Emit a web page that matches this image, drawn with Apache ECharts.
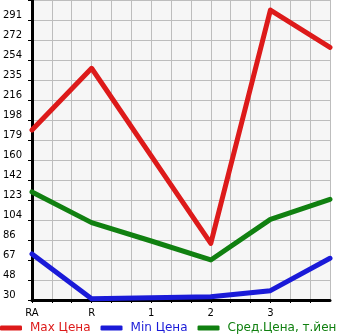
<!DOCTYPE html>
<html>
<head>
<meta charset="utf-8">
<script src="https://cdn.jsdelivr.net/npm/echarts@6/dist/echarts.min.js"></script>
<style>
  html, body { margin: 0; padding: 0; background: #fff; }
  #chart { width: 345px; height: 335px; }
</style>
</head>
<body>
<div id="chart"></div>
<script>
// данные графика
const categories = ['RA', 'R', '1', '2', '3', '4'];
const maxPrice = [188.5, 246.0, 164.4, 82.8, 300.3, 265.5];
const minPrice = [72.9, 31.2, 32.0, 33.0, 38.7, 68.9];
const avgPrice = [130.7, 102.1, 85.0, 67.3, 105.2, 123.9];
const yLabels = ['30', '48', '67', '86', '104', '123', '142', '160', '179', '198', '216', '235', '254', '272', '291', ''];

const Y_BASE = 30;
const Y_STEP = 18.643;
const X_SUB = 3; // 3 деления сетки на одну категорию
const FONT = 'DejaVu Sans';

const toSeries = (arr) => arr.map((v, i) => [i * X_SUB, v - Y_BASE]);

const chart = echarts.init(document.getElementById('chart'), null, { renderer: 'canvas' });

const line = (name, data, color) => ({
  name,
  type: 'line',
  data: toSeries(data),
  symbol: 'none',
  smooth: false,
  animation: false,
  lineStyle: { color, width: 5, cap: 'round', join: 'round' },
  itemStyle: { color },
});

chart.setOption({
  backgroundColor: '#fff',
  animation: false,
  grid: {
    left: 30, right: 15, top: 0, bottom: 35,
    show: true, backgroundColor: '#f6f6f6', borderWidth: 0,
  },
  legend: {
    left: 0, top: 322, padding: 0,
    itemWidth: 22, itemHeight: 5, itemGap: 10,
    icon: 'roundRect',
    data: [
      { name: 'Max Цена', textStyle: { color: '#dd1a1a' } },
      { name: 'Min Цена', textStyle: { color: '#1a1ad8' } },
      { name: 'Сред.Цена, т.йен', textStyle: { color: '#108010' } },
    ],
    textStyle: { fontFamily: FONT, fontSize: 12, padding: [0, 0, 0, 3] },
  },
  xAxis: {
    type: 'value',
    min: 0,
    max: (categories.length - 1) * X_SUB,
    interval: 1,
    axisLine: { show: true, onZero: false, lineStyle: { color: '#000', width: 3 } },
    axisTick: { show: true, length: 3, lineStyle: { color: '#000' } },
    axisLabel: {
      color: '#000', fontFamily: FONT, fontSize: 10, margin: 8,
      showMaxLabel: false,
      formatter: (v) => (v % X_SUB === 0 ? categories[v / X_SUB] : ''),
    },
    splitLine: { show: true, lineStyle: { color: '#bdbdbd', width: 1 } },
  },
  yAxis: {
    type: 'value',
    min: 0,
    max: (yLabels.length - 1) * Y_STEP,
    interval: Y_STEP,
    axisLine: { show: true, onZero: false, lineStyle: { color: '#000', width: 3 } },
    axisTick: { show: true, length: 4, lineStyle: { color: '#000' } },
    axisLabel: {
      color: '#000', fontFamily: FONT, fontSize: 10,
      align: 'left', verticalAlign: 'bottom', margin: 29,
      formatter: (v) => yLabels[Math.round(v / Y_STEP)] || '',
    },
    splitLine: { show: true, lineStyle: { color: '#bdbdbd', width: 1 } },
  },
  series: [
    line('Max Цена', maxPrice, '#dd1a1a'),
    line('Min Цена', minPrice, '#1a1ad8'),
    line('Сред.Цена, т.йен', avgPrice, '#108010'),
  ],
});
</script>
</body>
</html>
